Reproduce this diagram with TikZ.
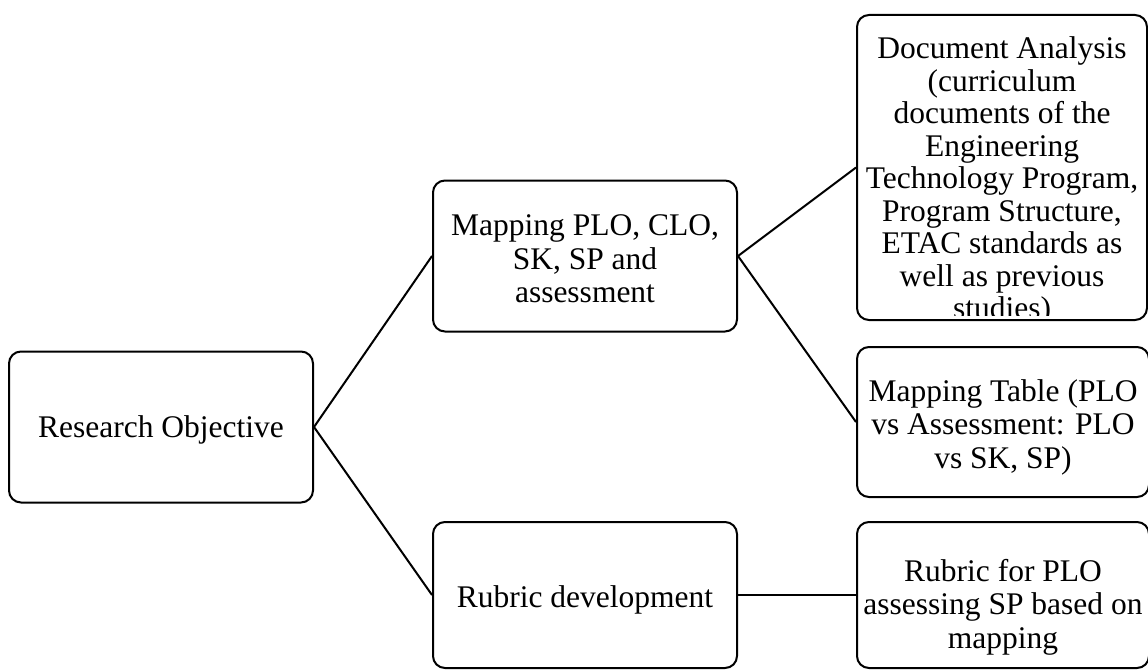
\documentclass[tikz,border=0pt]{standalone}
\usepackage{fontspec}
\setmainfont{Liberation Serif}
\usetikzlibrary{positioning}
\tikzset{
  txt/.style={align=center,inner sep=0pt,font=\fontsize{31.5}{33.5}\selectfont},
  box/.style={draw,line width=2pt,rounded corners=12pt,inner sep=0pt},
  midbox/.style={box,minimum width=304pt,minimum height=151pt},
  sidebox/.style={box,minimum width=292pt,minimum height=150pt},
  link/.style={line width=2pt}
}
\begin{document}
\begin{tikzpicture}[x=1pt,y=-1pt]
\useasboundingbox (0,0) rectangle (1148,669);
% left and middle column
\node[midbox] (objective) at (161,427) {};
\node[txt] (objective-t) at (161,430) {Research Objective};
\node[midbox] (mapping) at (585,256) {};
\node[txt] (mapping-t) at (585,259) {Mapping PLO, CLO,\\SK, SP and\\assessment};
\node[midbox,minimum height=146pt] (rubric) at (585,595) {};
\node[txt] (rubric-t) at (585,600) {Rubric development};
% right column
\node[sidebox,minimum width=290pt,minimum height=305pt] (docs) at (1002,167.5) {};
\begin{scope}
\clip (docs.north west) rectangle ([yshift=6pt]docs.south east);
\node[txt,font=\fontsize{31.5}{32.5}\selectfont] (docs-t) at (1002,181)
  {Document Analysis\\(curriculum\\documents of the\\Engineering\\Technology Program,\\Program Structure,\\ETAC standards as\\well as previous\\studies)};
\end{scope}
\node[sidebox] (table) at (1003,422) {};
\node[txt] (table-t) at (1003,427) {Mapping Table (PLO\\vs Assessment: PLO\\vs SK, SP)};
\node[sidebox,minimum height=146pt] (rubricplo) at (1003,595) {};
\node[txt] (rubricplo-t) at (1003,607) {Rubric for PLO\\assessing SP based on\\mapping};
% connectors
\draw[link] (objective.east) -- (mapping.west);
\draw[link] (objective.east) -- (rubric.west);
\draw[link] (mapping.east) -- (docs.west);
\draw[link] (mapping.east) -- (table.west);
\draw[link] (rubric.east) -- (rubricplo.west);
\end{tikzpicture}
\end{document}
